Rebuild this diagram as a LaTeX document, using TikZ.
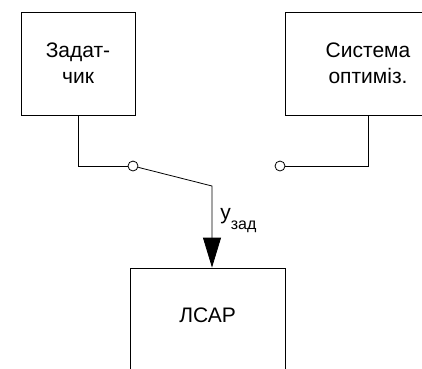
\documentclass[tikz,border=0pt]{standalone}
\usepackage{fontspec}
\setmainfont{Liberation Sans}
\usetikzlibrary{arrows.meta}
\begin{document}
\begin{tikzpicture}[x=1pt,y=-1pt,line width=0.8pt,
    font=\fontsize{21}{26}\selectfont,
    blk/.style={draw,rectangle,align=center,inner sep=0pt},
    term/.style={draw,circle,fill=white,minimum size=10pt,inner sep=0pt}]
  \useasboundingbox (0,0) rectangle (422,368);
  \clip (0,0) rectangle (422,368);
  % blocks
  \node[blk,minimum width=114pt,minimum height=103pt] (zad) at (78,63.5) {Задат-\\чик};
  \node[blk,minimum width=166pt,minimum height=103pt] (opt) at (368,63.5) {Система\\оптиміз.};
  \node[blk,minimum width=155pt,minimum height=130pt] (lsar) at (207.5,333) {};
  \node (lsartxt) at (207.5,315) {ЛСАР};
  % switch
  \node[term] (swa) at (133,166) {};
  \node[term] (swb) at (280,166) {};
  \coordinate (knee) at (212,186);
  \draw (zad.south) |- (swa.west);
  \draw (opt.south) |- (swb.east);
  \draw[-{Triangle[length=30pt,width=18pt]}] (swa) -- (knee) -- (knee |- lsar.north);
  \node[anchor=base west,inner sep=0pt] (uzad) at (220,219)
    {у\raisebox{-10pt}{\fontsize{16}{16}\selectfont зад}};
\end{tikzpicture}
\end{document}
